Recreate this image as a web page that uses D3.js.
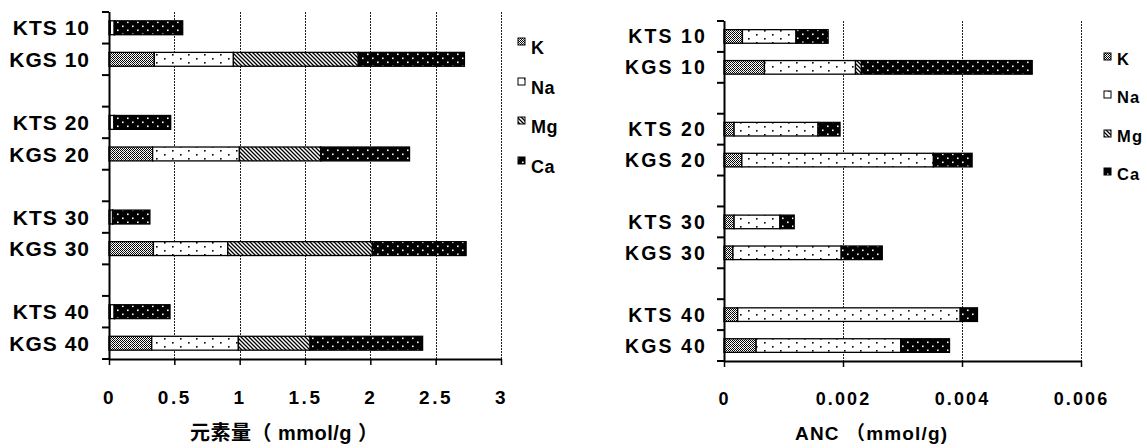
<!DOCTYPE html>
<html>
<head>
<meta charset="utf-8">
<script src="https://cdn.jsdelivr.net/npm/d3@7"></script>
<style>
  html, body { margin: 0; padding: 0; background: #fff; }
  svg { display: block; }
  text { font-family: "Liberation Sans", Arial, "Noto Sans CJK JP", sans-serif; font-weight: bold; fill: #000; }
</style>
</head>
<body>
<svg id="chart" width="1147" height="448"></svg>
<script>
// Sample rows (blank entries are spacer rows between depth groups)
const categories = ["KTS 10", "KGS 10", "", "KTS 20", "KGS 20", "", "KTS 30", "KGS 30", "", "KTS 40", "KGS 40"];
const elements = ["K", "Na", "Mg", "Ca"];

// Element content, mmol/g
const contentK  = [0.010, 0.347, 0, 0.008, 0.334, 0, 0.007, 0.340, 0, 0.010, 0.327];
const contentNa = [0.030, 0.605, 0, 0.030, 0.664, 0, 0.020, 0.569, 0, 0.030, 0.663];
const contentMg = [0.003, 0.956, 0, 0.003, 0.622, 0, 0.002, 1.107, 0, 0.002, 0.549];
const contentCa = [0.521, 0.812, 0, 0.431, 0.680, 0, 0.284, 0.717, 0, 0.425, 0.861];
const contentTicks = [0, 0.5, 1, 1.5, 2, 2.5, 3];

// Acid neutralizing capacity by element, mmol/g
const ancK  = [0.00031, 0.00068, 0, 0.00017, 0.00030, 0, 0.00017, 0.00015, 0, 0.00023, 0.00054];
const ancNa = [0.00090, 0.00153, 0, 0.00141, 0.00322, 0, 0.00077, 0.00182, 0, 0.00374, 0.00243];
const ancMg = [0, 0.00010, 0, 0, 0, 0, 0, 0, 0, 0, 0];
const ancCa = [0.00054, 0.00287, 0, 0.00037, 0.00065, 0, 0.00024, 0.00069, 0, 0.00029, 0.00082];
const ancTicks = [0, 0.002, 0.004, 0.006];

const svg = d3.select("#chart");

// Monochrome fill patterns, one per element
const defs = svg.append("defs");
function makePatterns() {
  // K: fine checker
  const pk = defs.append("pattern").attr("id", "pat-K").attr("patternUnits", "userSpaceOnUse")
    .attr("width", 4).attr("height", 4);
  pk.append("rect").attr("width", 4).attr("height", 4).attr("fill", "#fff");
  [[0,0],[2,0],[1,1],[3,1],[0,2],[2,2],[1,3]].forEach(([x, y]) =>
    pk.append("rect").attr("x", x).attr("y", y).attr("width", 1).attr("height", 1).attr("fill", "#000"));
  pk.append("rect").attr("x", 3).attr("y", 3).attr("width", 1).attr("height", 1).attr("fill", "#555");

  // Na: white with sparse staggered dots
  const pn = defs.append("pattern").attr("id", "pat-Na").attr("patternUnits", "userSpaceOnUse")
    .attr("width", 16).attr("height", 8);
  pn.append("rect").attr("width", 16).attr("height", 8).attr("fill", "#fff");
  pn.append("rect").attr("x", 4).attr("y", 2).attr("width", 1.6).attr("height", 1.6).attr("fill", "#000");
  pn.append("rect").attr("x", 12).attr("y", 6).attr("width", 1.6).attr("height", 1.6).attr("fill", "#000");

  // Mg: diagonal hatching
  const pm = defs.append("pattern").attr("id", "pat-Mg").attr("patternUnits", "userSpaceOnUse")
    .attr("width", 4).attr("height", 4);
  pm.append("rect").attr("width", 4).attr("height", 4).attr("fill", "#fff");
  pm.append("path").attr("d", "M-1,-1 L5,5 M-1,3 L1,5 M3,-1 L5,1")
    .attr("stroke", "#000").attr("stroke-width", 1.3);

  // Ca: black with white dots
  const pc = defs.append("pattern").attr("id", "pat-Ca").attr("patternUnits", "userSpaceOnUse")
    .attr("width", 10).attr("height", 8);
  pc.append("rect").attr("width", 10).attr("height", 8).attr("fill", "#000");
  pc.append("rect").attr("x", 2).attr("y", 1.5).attr("width", 1.6).attr("height", 1.6).attr("fill", "#fff");
  pc.append("rect").attr("x", 7).attr("y", 5.5).attr("width", 1.6).attr("height", 1.6).attr("fill", "#fff");
}
makePatterns();

function drawPanel(cfg) {
  const g = svg.append("g");
  const x = d3.scaleLinear().domain([cfg.ticks[0], cfg.ticks[cfg.ticks.length - 1]]).range([cfg.x0, cfg.x1]);
  const y = d3.scaleBand().domain(d3.range(categories.length)).range([cfg.yTop, cfg.yBot]).padding(0);
  const barH = y.bandwidth() * 0.44;

  // vertical gridlines
  g.append("g").selectAll("line").data(cfg.ticks.slice(1)).join("line")
    .attr("x1", d => Math.round(x(d)) + 0.5).attr("x2", d => Math.round(x(d)) + 0.5)
    .attr("y1", cfg.yTop).attr("y2", cfg.yBot)
    .attr("stroke", "#222").attr("stroke-width", 1).attr("stroke-dasharray", "2,1");

  // stacked bars
  const rows = categories.map((c, i) => ({
    idx: i, label: c, K: cfg.series[0][i], Na: cfg.series[1][i], Mg: cfg.series[2][i], Ca: cfg.series[3][i]
  }));
  const stacked = d3.stack().keys(elements)(rows);
  stacked.forEach(layer => {
    g.append("g").selectAll("rect")
      .data(layer.filter(d => d.data.label !== "" && d[1] - d[0] > 0))
      .join("rect")
      .attr("x", d => x(d[0]))
      .attr("width", d => x(d[1]) - x(d[0]))
      .attr("y", d => y(d.data.idx) + (y.bandwidth() - barH) / 2)
      .attr("height", barH)
      .attr("fill", `url(#pat-${layer.key})`)
      .attr("stroke", "#000").attr("stroke-width", 1.3);
  });

  // y axis line with ticks at band boundaries
  const bounds = y.domain().map(d => y(d)).concat([cfg.yBot]);
  g.append("line").attr("x1", cfg.x0 + 0.5).attr("x2", cfg.x0 + 0.5)
    .attr("y1", cfg.yTop).attr("y2", cfg.yBot).attr("stroke", "#000").attr("stroke-width", 2);
  g.append("g").selectAll("line").data(bounds).join("line")
    .attr("x1", cfg.x0 - 7).attr("x2", cfg.x0)
    .attr("y1", d => d).attr("y2", d => d)
    .attr("stroke", "#000").attr("stroke-width", 2);

  // category labels
  g.append("g").selectAll("text").data(rows.filter(r => r.label !== "")).join("text")
    .attr("x", cfg.x0 - cfg.labelGap)
    .attr("y", d => y(d.idx) + y.bandwidth() / 2 + cfg.labelSize * 0.36)
    .attr("text-anchor", "end")
    .attr("font-size", cfg.labelSize)
    .attr("letter-spacing", cfg.labelSpacing)
    .text(d => d.label);

  // x axis
  const xAxis = d3.axisBottom(x).tickValues(cfg.ticks).tickSize(6).tickSizeOuter(0).tickFormat(d => String(d));
  const ax = g.append("g").attr("transform", `translate(0,${cfg.yBot})`).call(xAxis);
  ax.select(".domain").attr("stroke", "#000").attr("stroke-width", 2);
  ax.selectAll(".tick line").attr("stroke", "#000").attr("stroke-width", 1.5);
  ax.selectAll(".tick text")
    .attr("y", cfg.tickLabelY - cfg.yBot).attr("dy", 0)
    .attr("font-size", cfg.tickSize)
    .attr("letter-spacing", cfg.tickSpacing)
    .style("font-family", '"Liberation Sans", Arial, sans-serif')
    .style("font-weight", "bold")
    .attr("fill", "#000");

  // axis title
  g.append("text")
    .attr("x", cfg.titleX).attr("y", cfg.titleY)
    .attr("font-size", cfg.titleSize)
    .attr("textLength", cfg.titleLen).attr("lengthAdjust", "spacing")
    .text(cfg.title);

  // legend
  const lg = g.append("g");
  elements.forEach((el, i) => {
    const by = cfg.legendY[i];
    lg.append("rect")
      .attr("x", cfg.legendX).attr("y", by - cfg.legendSq - cfg.legendRaise)
      .attr("width", cfg.legendSq).attr("height", cfg.legendSq)
      .attr("fill", `url(#pat-${el})`).attr("stroke", "#000").attr("stroke-width", 1);
    lg.append("text")
      .attr("x", cfg.legendX + cfg.legendSq + 6).attr("y", by)
      .attr("font-size", cfg.legendSize)
      .attr("letter-spacing", cfg.legendSpacing)
      .text(el);
  });
}

drawPanel({
  series: [contentK, contentNa, contentMg, contentCa],
  ticks: contentTicks,
  x0: 109, x1: 501, yTop: 12, yBot: 359,
  labelGap: 19, labelSize: 21, labelSpacing: 1,
  tickLabelY: 404, tickSize: 19, tickSpacing: 2.6,
  title: "元素量（ mmol/g ）", titleX: 190, titleY: 440, titleSize: 20, titleLen: 188,
  legendX: 518, legendY: [54, 94, 133, 173], legendSq: 7, legendRaise: 9,
  legendSize: 18, legendSpacing: 0.5
});

drawPanel({
  series: [ancK, ancNa, ancMg, ancCa],
  ticks: ancTicks,
  x0: 724, x1: 1081, yTop: 21, yBot: 361,
  labelGap: 17, labelSize: 19.5, labelSpacing: 2.1,
  tickLabelY: 405, tickSize: 18, tickSpacing: 2.1,
  title: "ANC （mmol/g)", titleX: 795, titleY: 440, titleSize: 19, titleLen: 152,
  legendX: 1104, legendY: [65, 103, 142, 180], legendSq: 7, legendRaise: 5,
  legendSize: 16.5, legendSpacing: 1.2
});
</script>
</body>
</html>
